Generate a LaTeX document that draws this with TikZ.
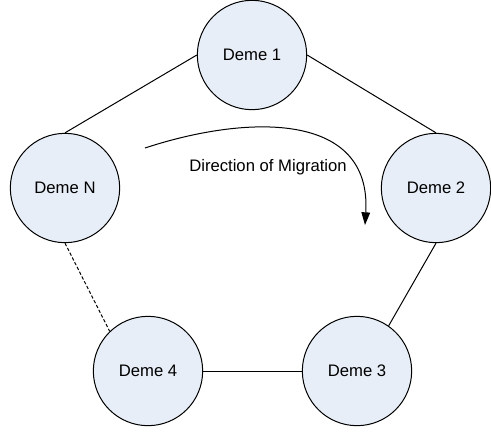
\documentclass[tikz,border=0pt]{standalone}
\usepackage{fontspec}
\setmainfont{Liberation Sans}
\usepackage{tikz}
\usetikzlibrary{arrows.meta}

\definecolor{demefill}{RGB}{232,238,247}

\begin{document}
\begin{tikzpicture}[x=0.75pt, y=-0.75pt, line width=0.75pt,
	deme/.style={circle, draw, fill=demefill, minimum size=82pt, inner sep=0pt,
		font=\fontsize{12.5}{15}\selectfont}]
\useasboundingbox (0,0) rectangle (491,432);

% the demes of the ring
\foreach \name/\x/\y/\lbl in {deme1/252/55/1, deme2/436/188/2, deme3/357/371/3, deme4/148/371/4, demeN/65/188/N}
	\node[deme] (\name) at (\x,\y) {Deme \lbl};

% links between neighbours
\draw (demeN.north) -- (deme1.west);
\draw (deme1.east) -- (deme2.north);
\draw (deme2.south) -- (deme3.55);
\draw (deme4.east) -- (deme3.west);
\draw[dash pattern=on 2.5pt off 1.5pt] (demeN.south) -- (deme4.134);

% migration direction
\coordinate (migstart) at (145,148);
\coordinate (migend) at (365,225);
\draw[-{Triangle[length=9.5pt,width=6.5pt]}] (migstart) .. controls (245,115) and (372,110) .. (migend);
\node[font=\fontsize{12.5}{15}\selectfont] (miglabel) at (268,167) {Direction of Migration};
\end{tikzpicture}
\end{document}
